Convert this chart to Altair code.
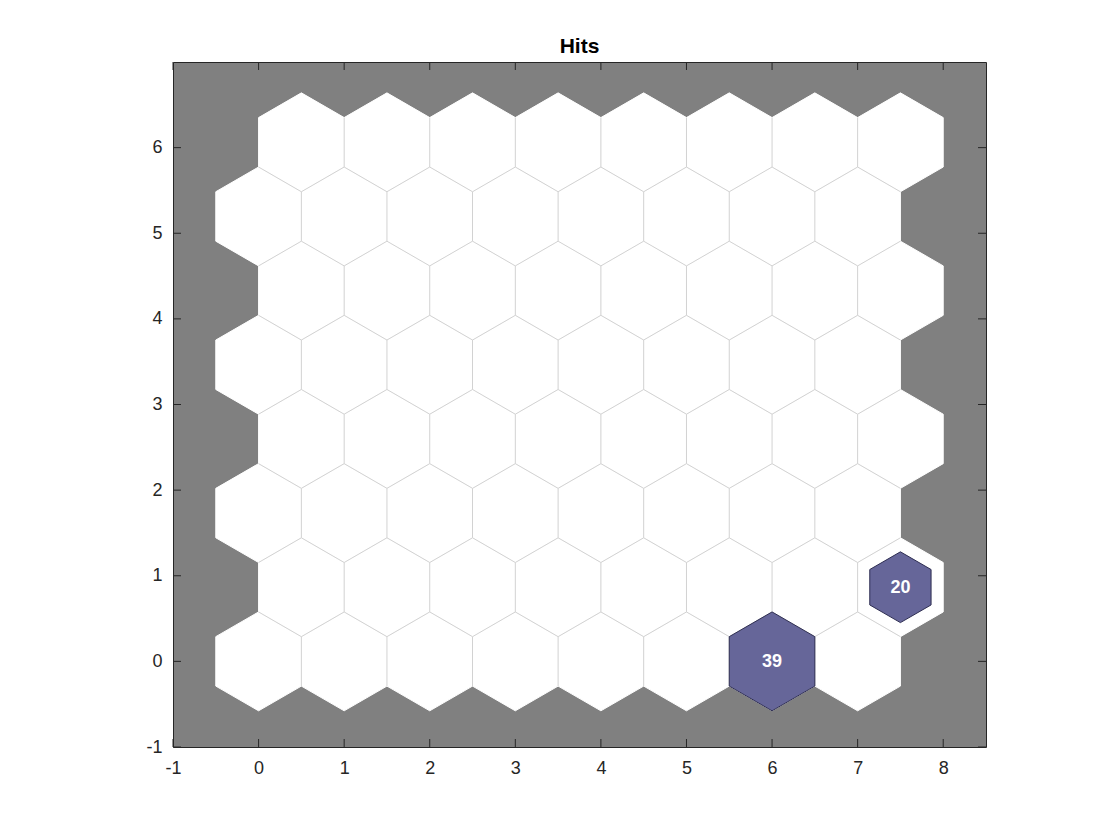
import math
import altair as alt
import pandas as pd

# grid definition
grid_cols = 8
grid_rows = 8
# hits per neuron (cell index = row*8 + col)
hit_cells = [6, 15]
hit_counts = [39, 20]
x_ticks = [-1, 0, 1, 2, 3, 4, 5, 6, 7, 8]
y_ticks = [-1, 0, 1, 2, 3, 4, 5, 6]

R = 1 / math.sqrt(3)
H = math.sqrt(3) / 2

centers = {}
for j in range(grid_rows):
    for i in range(grid_cols):
        centers[j * grid_cols + i] = (i + 0.5 * (j % 2), j * H)


def hex_rows(cid, cx, cy, scale):
    rows = []
    for k in range(7):
        a = math.radians(30 + 60 * (k % 6))
        rows.append({"id": cid, "k": k, "x": cx + scale * R * math.cos(a), "y": cy + scale * R * math.sin(a)})
    return rows


bg_rows = []
for cid, (cx, cy) in centers.items():
    bg_rows += hex_rows(cid, cx, cy, 1.0)
bg = pd.DataFrame(bg_rows)

# inner edges between neighbouring cells
pts = list(centers.values())
edge_rows = []
for cid, (cx, cy) in centers.items():
    for n in range(6):
        th = math.radians(60 * n)
        nx, ny = cx + math.cos(th), cy + math.sin(th)
        if any(abs(nx - px) < 1e-6 and abs(ny - py) < 1e-6 for px, py in pts):
            if n in (0, 1, 2):
                a1 = th - math.radians(30)
                a2 = th + math.radians(30)
                edge_rows.append({"x": cx + R * math.cos(a1), "y": cy + R * math.sin(a1),
                                  "x2": cx + R * math.cos(a2), "y2": cy + R * math.sin(a2)})
edges = pd.DataFrame(edge_rows)

mx = max(hit_counts)
hit_rows = []
lab_rows = []
for cid, cnt in zip(hit_cells, hit_counts):
    cx, cy = centers[cid]
    hit_rows += hex_rows(cid, cx, cy, math.sqrt(cnt / mx))
    lab_rows.append({"x": cx, "y": cy, "t": str(cnt)})
hits = pd.DataFrame(hit_rows)
labs = pd.DataFrame(lab_rows)

W, Hh = 813, 685
xs = alt.Scale(domain=[-1, 8.5], nice=False, zero=False)
ys = alt.Scale(domain=[-1, 7.0], nice=False, zero=False)
FONT = "Liberation Sans"

xax = alt.Axis(values=x_ticks, labelPadding=12, labelExpr="'' + datum.value", labelFlush=False)
yax = alt.Axis(values=y_ticks, labelPadding=11, labelExpr="'' + datum.value", labelFlush=False)

base_bg = alt.Chart(bg).mark_line(fill="white", stroke="white", strokeWidth=1).encode(
    x=alt.X("x:Q", scale=xs, axis=xax),
    y=alt.Y("y:Q", scale=ys, axis=yax),
    detail="id:N",
    order="k:Q",
)

edge_layer = alt.Chart(edges).mark_rule(stroke="#d2d2d2", strokeWidth=1).encode(
    x=alt.X("x:Q", scale=xs), y=alt.Y("y:Q", scale=ys), x2="x2:Q", y2="y2:Q"
)

hit_layer = alt.Chart(hits).mark_line(fill="#666699", stroke="#2e2e52", strokeWidth=1).encode(
    x=alt.X("x:Q", scale=xs), y=alt.Y("y:Q", scale=ys), detail="id:N", order="k:Q"
)

text_layer = alt.Chart(labs).mark_text(color="white", fontSize=18, fontWeight="bold", font=FONT, dy=1).encode(
    x=alt.X("x:Q", scale=xs), y=alt.Y("y:Q", scale=ys), text="t:N"
)

tk = 8
xt = pd.DataFrame({"v": x_ticks})
yt = pd.DataFrame({"v": y_ticks})
tb = alt.Chart(xt).mark_rule(color="#262626").encode(x=alt.X("v:Q", scale=xs), y=alt.value(Hh), y2=alt.value(Hh - tk))
tt = alt.Chart(xt).mark_rule(color="#262626").encode(x=alt.X("v:Q", scale=xs), y=alt.value(0), y2=alt.value(tk))
tl = alt.Chart(yt).mark_rule(color="#262626").encode(y=alt.Y("v:Q", scale=ys), x=alt.value(0), x2=alt.value(tk))
tr = alt.Chart(yt).mark_rule(color="#262626").encode(y=alt.Y("v:Q", scale=ys), x=alt.value(W), x2=alt.value(W - tk))

chart = alt.layer(base_bg, edge_layer, hit_layer, text_layer, tb, tt, tl, tr).properties(
    width=W, height=Hh,
    title=alt.TitleParams("Hits", fontSize=21, fontWeight="bold", font=FONT, color="black", offset=5),
    autosize=alt.AutoSizeParams(type="none"),
    padding={"left": 173, "top": 62, "right": 134, "bottom": 93},
    background="white",
).configure_view(fill="#808080", stroke="#262626", strokeWidth=1).configure_axis(
    ticks=False, domain=False, grid=False, labelFontSize=18, labelColor="#262626",
    labelFont=FONT, title=None
)

chart.save("out.html", embed_options={"renderer": "svg", "actions": False})
